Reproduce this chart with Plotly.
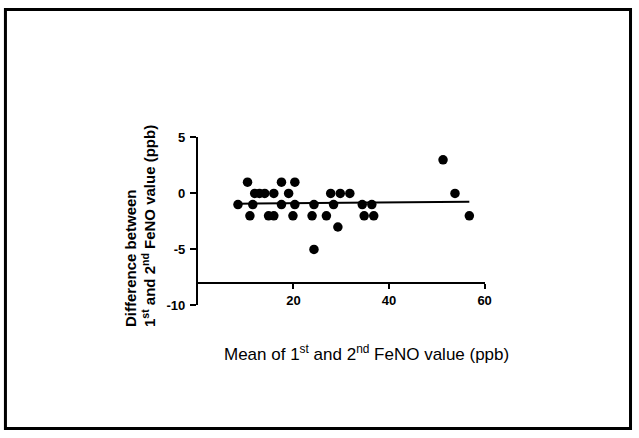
import plotly.graph_objects as go

# Data (Bland-Altman style plot)
mean_vals = [8.4, 10.4, 11.5, 10.9, 11.9, 12.9, 14.0, 14.8, 15.9, 15.9,
             17.5, 17.5, 19.0, 19.9, 20.3, 20.3, 23.9, 24.3, 24.3, 26.9,
             27.8, 28.4, 29.8, 29.3, 31.8, 34.4, 34.8, 36.4, 36.8, 51.3,
             53.8, 56.8]
diff_vals = [-1, 1, -1, -2, 0, 0, 0, -2, -2, 0,
             1, -1, 0, -2, 1, -1, -2, -1, -5, -2,
             0, -1, 0, -3, 0, -1, -2, -1, -2, 3,
             0, -2]

fit_x = [8.4, 56.8]
fit_y = [-0.92, -0.74]

x_ticks = [20, 40, 60]
y_ticks = [-10, -5, 0, 5]
x_range = [0, 60]
y_range = [-10, 5]
x_axis_cross = -8

W, H = 639, 438
px_left, px_right = 200, 490
px_top, px_bottom = 135, 309
xdom = [px_left / W, px_right / W]
ydom = [(H - px_bottom) / H, (H - px_top) / H]
x_pos = ydom[0] + (ydom[1] - ydom[0]) * (x_axis_cross - y_range[0]) / (y_range[1] - y_range[0])

fig = go.Figure()
fig.add_trace(go.Scatter(
    x=fit_x, y=fit_y, mode="lines",
    line=dict(color="black", width=2), showlegend=False, hoverinfo="skip"))
fig.add_trace(go.Scatter(
    x=mean_vals, y=diff_vals, mode="markers",
    marker=dict(color="black", size=9.5, line=dict(width=0)),
    showlegend=False, cliponaxis=False))

tick_font = dict(family="Liberation Sans, Arial", size=13, color="black")

fig.update_layout(
    width=W, height=H,
    margin=dict(l=0, r=0, t=0, b=0),
    paper_bgcolor="white", plot_bgcolor="white",
    xaxis=dict(
        domain=xdom, range=x_range, anchor="free", position=x_pos,
        tickvals=x_ticks, ticktext=[f"<b>{v}</b>" for v in x_ticks],
        ticks="outside", ticklen=5, tickwidth=2, tickcolor="black",
        showline=True, linecolor="black", linewidth=2,
        showgrid=False, zeroline=False, tickfont=tick_font),
    yaxis=dict(
        domain=ydom, range=y_range,
        tickvals=y_ticks, ticktext=[f"<b>{v}</b>" for v in y_ticks],
        ticks="outside", ticklen=6, tickwidth=2, tickcolor="black",
        showline=True, linecolor="black", linewidth=2,
        showgrid=False, zeroline=False, tickfont=tick_font, ticklabelstandoff=2),
    font=dict(family="Liberation Sans, Arial", color="black"),
)

fig.add_annotation(
    text="Mean of 1<sup>st</sup> and 2<sup>nd</sup> FeNO value (ppb)",
    xref="paper", yref="paper", x=371 / W, y=(H - 358) / H,
    xanchor="center", yanchor="middle", showarrow=False,
    font=dict(family="Liberation Sans, Arial", size=17, color="black"))

fig.add_annotation(
    text="<b>Difference between</b><br><b>1<sup>st</sup> and 2<sup>nd</sup> FeNO value (ppb)</b>",
    xref="paper", yref="paper", x=142 / W, y=(H - 333) / H,
    xanchor="center", yanchor="bottom", align="left", textangle=-90,
    showarrow=False,
    font=dict(family="Liberation Sans, Arial", size=15, color="black"))

fig.add_shape(type="rect", xref="paper", yref="paper",
              x0=5.5 / W, x1=637.5 / W, y0=(H - 436.5) / H, y1=(H - 2.5) / H,
              line=dict(color="black", width=3), fillcolor="rgba(0,0,0,0)")

post = (
    "document.documentElement.style.margin='0';"
    "document.documentElement.style.overflow='hidden';"
    "document.body.style.margin='0';"
    "document.body.style.overflow='hidden';"
    "var d=document.getElementById('{plot_id}');"
    "d.style.position='fixed';d.style.left='0px';d.style.top='0px';"
)
fig.write_html("out.html", config={"displayModeBar": False}, post_script=post)
